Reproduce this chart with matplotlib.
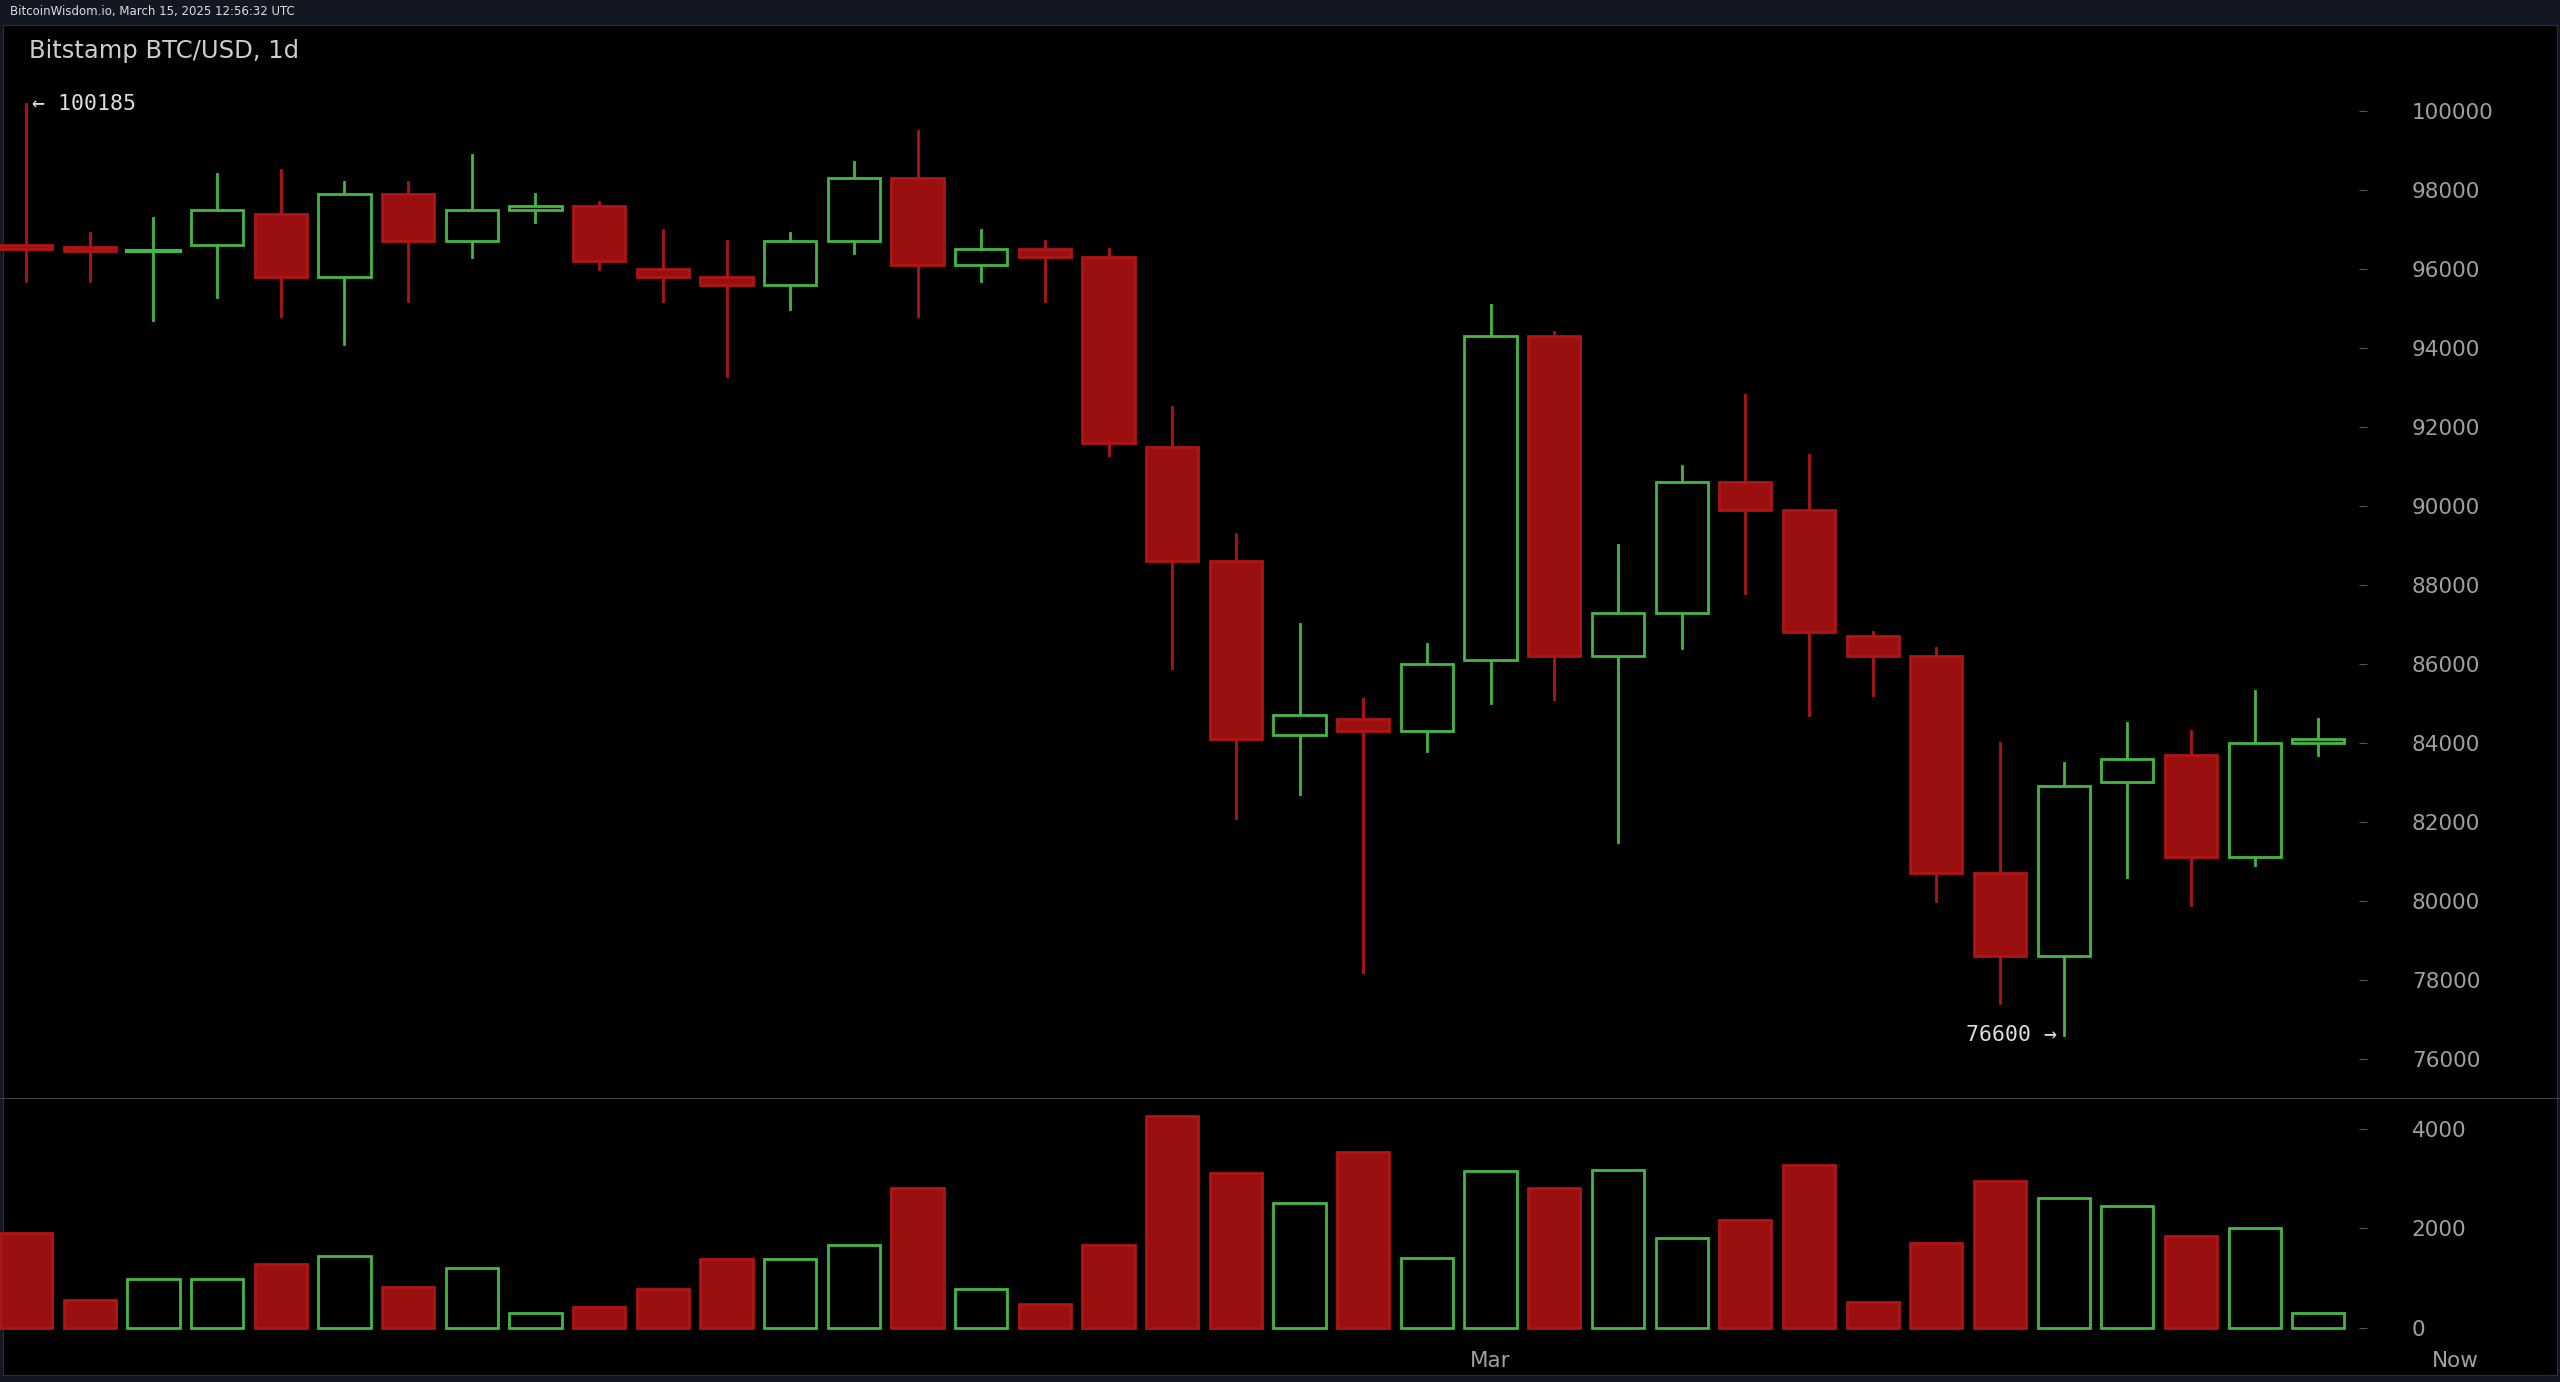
import matplotlib
matplotlib.use("Agg")
import matplotlib.pyplot as plt
from matplotlib.patches import Rectangle

opens  = [96600,96550,96450,96600,97400,95800,97900,96700,97500,97600,96000,95800,95600,96700,98300,96100,96500,96300,91500,88600,84200,84600,84300,86100,94300,86200,87300,90600,89900,86700,86200,80700,78600,83000,83700,81100,84000]
closes = [96500,96450,96500,97500,95800,97900,96700,97500,97600,96200,95800,95600,96700,98300,96100,96500,96300,91600,88600,84100,84700,84300,86000,94300,86200,87300,90600,89900,86800,86200,80700,78600,82900,83600,81100,84000,84100]
highs  = [100185,96900,97300,98400,98500,98200,98200,98900,97900,97700,97000,96700,96900,98700,99500,97000,96700,96500,92500,89300,87000,85100,86500,95100,94400,89000,91000,92800,91300,86800,86400,84000,83500,84500,84300,85300,84600]
lows   = [95700,95700,94700,95300,94800,94100,95200,96300,97200,96000,95200,93300,95000,96400,94800,95700,95200,91300,85900,82100,82700,78200,83800,85000,85100,81500,86400,87800,84700,85200,80000,77400,76600,80600,79900,80900,83700]
volumes = [1900,560,980,980,1280,1440,820,1210,300,430,790,1380,1380,1670,2820,790,490,1670,4260,3110,2520,3540,1410,3150,2820,3180,1800,2160,3280,520,1700,2950,2620,2460,1840,2000,300]
price_ticks = [76000,78000,80000,82000,84000,86000,88000,90000,92000,94000,96000,98000,100000]
vol_ticks = [0,2000,4000]

RED = "#9a1010"; REDE = "#b01515"; GREEN = "#44b844"; BG = "#000000"; TXT = "#a0a0a0"
fig = plt.figure(figsize=(25.6, 13.82), dpi=100, facecolor="#131722")
W = 1568; H = 846
def ax_rect(x0, y0, x1, y1):
    return [x0/W, 1-y1/H, (x1-x0)/W, (y1-y0)/H]
bg = fig.add_axes(ax_rect(2, 15, 1566, 842)); bg.set_facecolor(BG); bg.set_xticks([]); bg.set_yticks([])
for s in bg.spines.values(): s.set_color("#2a2e39")
sep = fig.add_axes(ax_rect(0, 672, 1568, 673)); sep.axis("off")
sep.axhline(0.5, color="#444", lw=1.5)
ax = fig.add_axes(ax_rect(0, 15, 1450, 672)); axv = fig.add_axes(ax_rect(0, 672, 1450, 822))
xmax = (1450 - 16) / 39
for a in (ax, axv):
    a.set_facecolor("none")
    for s in a.spines.values(): s.set_visible(False)
    a.set_xlim(-0.41, xmax)
    a.tick_params(axis="y", right=True, left=False, labelright=True, labelleft=False, colors="#555", labelcolor=TXT, length=6, direction="in", pad=32, labelsize=15.5)
    a.set_xticks([])
ax.set_ylim(75010, 102193); ax.set_yticks(price_ticks)
axv.set_ylim(-295, 4623); axv.set_yticks(vol_ticks)

w = 0.82
for i in range(len(opens)):
    o, c, h, l = opens[i], closes[i], highs[i], lows[i]
    up = c >= o
    col = GREEN if up else REDE
    ax.plot([i, i], [l, h], color=col, lw=2)
    lo, hi = min(o, c), max(o, c)
    if hi - lo < 80:
        ax.plot([i-w/2, i+w/2], [o, o], color=col, lw=3)
    else:
        ax.add_patch(Rectangle((i-w/2, lo), w, hi-lo, facecolor=BG if up else RED, edgecolor=col, lw=2, zorder=3))
    axv.add_patch(Rectangle((i-w/2, 0), w, volumes[i], facecolor=BG if up else RED, edgecolor=col, lw=2))

ax.text(0.1, 100185, "← 100185", color="#ddd", fontsize=15.5, family="DejaVu Sans Mono", va="center")
ax.text(31.9, 76600, "76600 →", color="#ddd", fontsize=15.5, family="DejaVu Sans Mono", va="center", ha="right")
fig.text(18/W, 1-31/H, "Bitstamp BTC/USD, 1d", color="#ccc", fontsize=17.5, va="center")
fig.text(6/W, 1-7/H, "BitcoinWisdom.io, March 15, 2025 12:56:32 UTC", color="#ddd", fontsize=8.5, va="center")
fig.text(913/W, 1-833/H, "Mar", color=TXT, fontsize=15.5, ha="center", va="center")
fig.text(1504/W, 1-833/H, "Now", color=TXT, fontsize=15.5, ha="center", va="center")
fig.savefig("out.png", dpi=100, facecolor=fig.get_facecolor())
